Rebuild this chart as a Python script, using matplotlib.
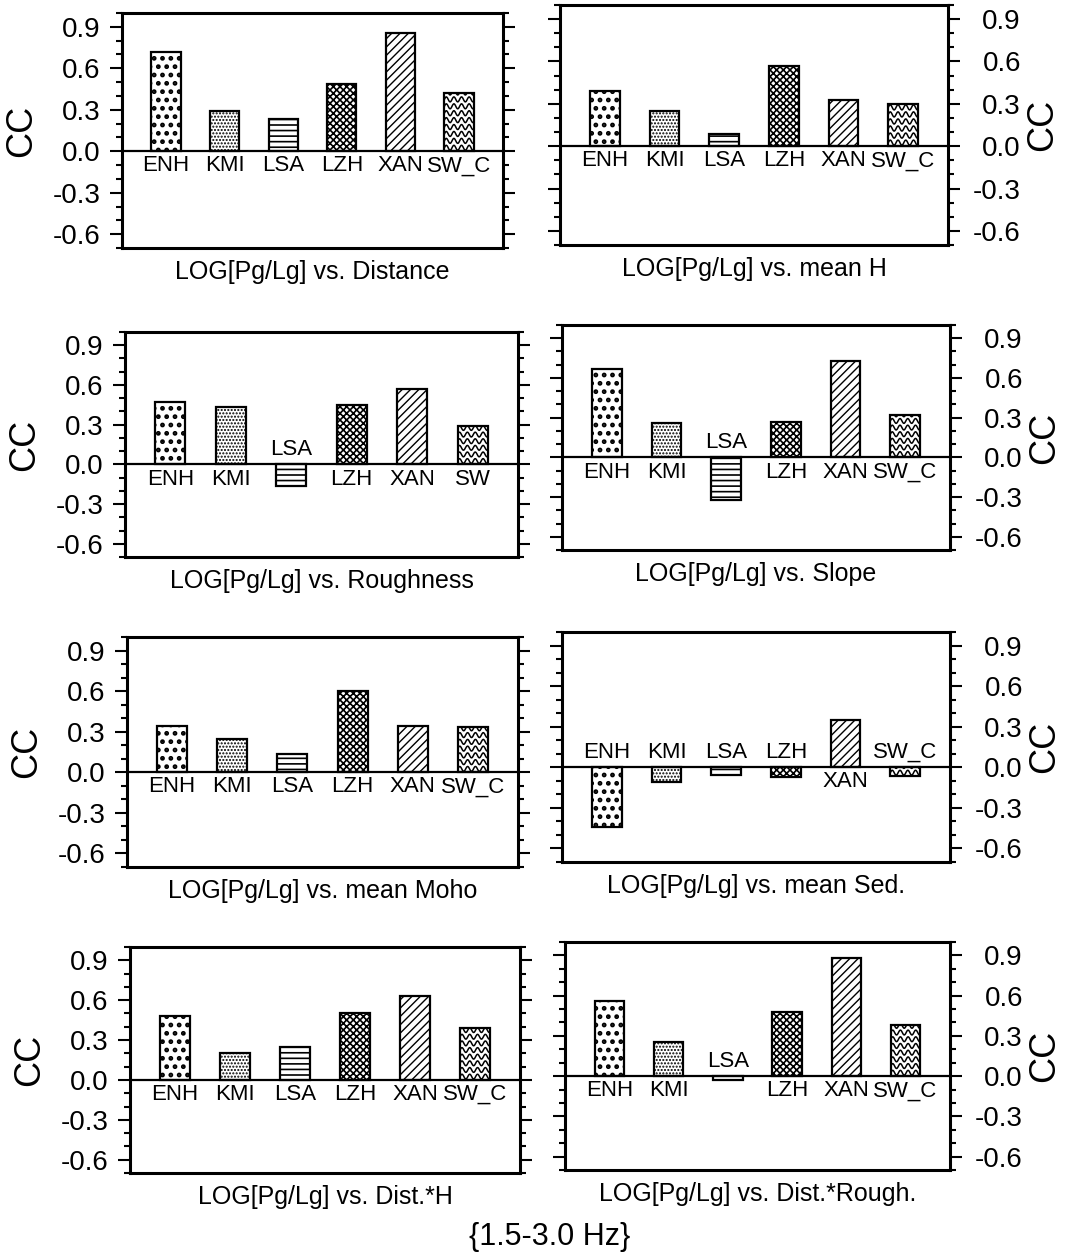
import numpy as np
import matplotlib
matplotlib.use('Agg')
from matplotlib import pyplot as plt
from matplotlib.ticker import MultipleLocator, FormatStrFormatter

plt.rcParams['font.family'] = ['Liberation Sans', 'DejaVu Sans']

# correlation coefficients of LOG[Pg/Lg] with each path parameter, per station
STATIONS = ['ENH', 'KMI', 'LSA', 'LZH', 'XAN', 'SW_C']
STATIONS_SHORT = ['ENH', 'KMI', 'LSA', 'LZH', 'XAN', 'SW']

cc_distance = [0.72, 0.29, 0.23, 0.49, 0.855, 0.42]
cc_mean_h = [0.39, 0.25, 0.085, 0.565, 0.325, 0.30]
cc_roughness = [0.47, 0.43, -0.16, 0.445, 0.57, 0.29]
cc_slope = [0.67, 0.26, -0.32, 0.27, 0.73, 0.32]
cc_mean_moho = [0.34, 0.245, 0.135, 0.60, 0.34, 0.335]
cc_mean_sed = [-0.44, -0.105, -0.06, -0.07, 0.35, -0.065]
cc_dist_h = [0.48, 0.20, 0.25, 0.505, 0.63, 0.39]
cc_dist_rough = [0.56, 0.255, -0.03, 0.48, 0.88, 0.38]

TITLES = ['LOG[Pg/Lg] vs. Distance', 'LOG[Pg/Lg] vs. mean H',
          'LOG[Pg/Lg] vs. Roughness', 'LOG[Pg/Lg] vs. Slope',
          'LOG[Pg/Lg] vs. mean Moho', 'LOG[Pg/Lg] vs. mean Sed.',
          'LOG[Pg/Lg] vs. Dist.*H', 'LOG[Pg/Lg] vs. Dist.*Rough.']
FOOTER = '{1.5-3.0 Hz}'

W, H = 1075, 1255

# hatch pattern and hatch line width for each station (SW_C gets waves)
HATCHES = [('..', 2.2), ('.....', 1.0), ('---', 1.2), ('xxxxx', 1.2), ('////', 1.0), (None, 0)]


def px_rect(x0, y0, x1, y1):
    return [x0 / W, 1 - y1 / H, (x1 - x0) / W, (y1 - y0) / H]


def draw_waves(ax, bar, period=0.13, amp=0.018, step=0.05):
    x0, w = bar.get_x(), bar.get_width()
    y0, h = bar.get_y(), bar.get_height()
    lo, hi = min(y0, y0 + h), max(y0, y0 + h)
    xs = np.linspace(x0, x0 + w, 80)
    for yc in np.arange(lo + step / 2, hi + step, step):
        line, = ax.plot(xs, yc + amp * np.sin(2 * np.pi * (xs - x0) / period),
                        color='black', lw=1.1, zorder=2.2)
        line.set_clip_path(bar)


def draw_panel(ax, labels, values, side, title):
    xs = np.arange(1, len(values) + 1)
    bars = ax.bar(xs, values, width=0.5, color='white', edgecolor='black',
                  linewidth=1.6, zorder=2)
    for bar, (hatch, hlw) in zip(bars, HATCHES):
        if hatch:
            bar.set_hatch(hatch)
            bar.set_hatch_linewidth(hlw)
    draw_waves(ax, bars[-1])
    ax.axhline(0, color='black', lw=1.6, zorder=3)

    for x, v, name in zip(xs, values, labels):
        off, va = (-3, 'top') if v >= 0 else (3, 'bottom')
        ax.annotate(name, (x, 0), xytext=(0, off), textcoords='offset points',
                    ha='center', va=va, fontsize=16, zorder=4)

    ax.set_xlim(0.25, 6.75)
    ax.set_ylim(-0.7, 1.0)
    ax.set_xticks([])
    ax.yaxis.set_major_locator(MultipleLocator(0.3))
    ax.yaxis.set_minor_locator(MultipleLocator(0.1))
    ax.yaxis.set_major_formatter(FormatStrFormatter('%.1f'))
    ax.tick_params(axis='y', which='both', direction='out', left=True, right=True,
                   width=1.5, labelsize=20)
    ax.tick_params(axis='y', which='major', length=8.5)
    ax.tick_params(axis='y', which='minor', length=4.3)
    for s in ax.spines.values():
        s.set_linewidth(2.2)

    if side == 'left':
        ax.tick_params(axis='y', labelleft=True, labelright=False, pad=7)
        ax.set_ylabel('CC', fontsize=26, labelpad=10)
    else:
        ax.tick_params(axis='y', labelleft=False, labelright=True, pad=44)
        ax.yaxis.set_label_position('right')
        ax.set_ylabel('CC', fontsize=26, labelpad=3)
        for lab in ax.get_yticklabels():
            lab.set_horizontalalignment('right')

    ax.text(0.5, -24 / (ax.bbox.height), title, transform=ax.transAxes,
            ha='center', va='center', fontsize=18)


fig = plt.figure(figsize=(W / 100, H / 100), dpi=100)

rects = [px_rect(122, 13, 503, 248), px_rect(560, 5, 948, 245),
         px_rect(125, 332, 518, 557), px_rect(562, 325, 950, 550),
         px_rect(127, 637, 518, 867), px_rect(562, 632, 950, 862),
         px_rect(130, 947, 520, 1173), px_rect(565, 942, 950, 1170)]
values = [cc_distance, cc_mean_h, cc_roughness, cc_slope,
          cc_mean_moho, cc_mean_sed, cc_dist_h, cc_dist_rough]

for i, (r, vals, title) in enumerate(zip(rects, values, TITLES)):
    ax = fig.add_axes(r)
    labels = STATIONS_SHORT if i == 2 else STATIONS
    draw_panel(ax, labels, vals, 'left' if i % 2 == 0 else 'right', title)

fig.text(550 / W, 1 - 1237 / H, FOOTER, ha='center', va='center', fontsize=22)

fig.savefig('out.png', dpi=100)
